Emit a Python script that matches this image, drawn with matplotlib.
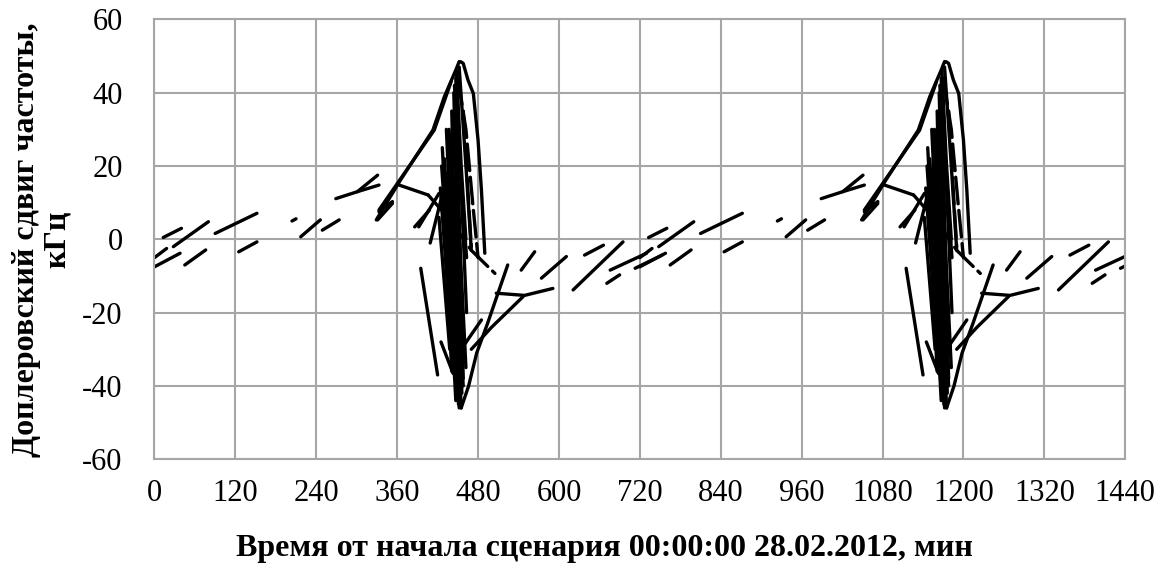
import matplotlib.pyplot as plt

plt.rcParams['font.family'] = ['Liberation Serif', 'DejaVu Serif']
plt.rcParams['axes.unicode_minus'] = False

# second day repeats the first one (orbit period of the scenario)
day_starts = [0, 720]

# short drift dashes, (x, y) pairs, x in minutes, y in kHz
drift_x = [
    [0, 38], [0, 18], [13, 40], [28, 80], [45, 76], [90, 152], [125, 152],
    [204, 210], [217, 246], [249, 274], [269, 301, 331], [301, 333],
    [331, 353], [333, 353], [392, 422], [386, 408], [409, 433],
    [544, 564], [574, 611], [638, 666], [621, 695], [671, 690],
    [676, 730], [713, 753],
]
drift_y = [
    [-7.5, -3.8], [-5.0, -2.5], [0.5, 3.0], [-2.0, 4.8], [-7.0, -2.9], [1.6, 7.1], [-3.4, -0.7],
    [5.0, 5.6], [0.7, 5.3], [2.5, 5.3], [11.1, 13.0, 17.5], [13.0, 14.8],
    [5.3, 9.8], [7.5, 10.3], [3.4, 12.5], [3.4, 8.0], [-1.0, 16.7],
    [-8.4, -3.4], [-10.6, -4.7], [-4.3, -1.6], [-13.8, -0.7], [-12.0, -9.7],
    [-8.4, -3.8], [-7.9, -4.3],
]

# high elevation passes (big arcs around 450 min)
pass_x = [
    [329, 365, 413, 430, 447, 452, 455, 458, 465, 473, 480, 485, 490],
    [333, 415, 440],
    [363, 406],
    [455, 466, 478, 494, 524],
    [470, 500, 547],
    [507, 549, 591],
    [455, 485],
    [395, 420],
    [425, 443],
    [426, 448], [430, 451], [434, 453], [438, 455], [441, 449],
    [444, 456], [422, 438], [436, 444], [447, 458], [429, 446],
    [432, 440, 452], [437, 447, 455],
    [424, 444], [427, 447], [433, 452], [440, 458], [443, 460],
    [446, 462], [450, 463], [437, 450], [431, 441],
    [448, 455, 462], [452, 462, 470], [445, 450],
]
pass_y = [
    [5.3, 16.2, 29.8, 38.9, 46.2, 48.5, 48.4, 48.0, 43.5, 39.8, 27.1, 13.5, -3.8],
    [8.0, 29.8, 43.0],
    [14.8, 12.1],
    [-46.0, -40.0, -31.0, -23.0, -7.0],
    [-30.0, -24.0, -15.6],
    [-14.7, -15.3, -13.4],
    [-30.0, -22.0],
    [-7.9, -37.0],
    [-28.0, -36.6],
    [20, -40], [22, -45], [18, -43], [28, -46], [35, -30],
    [40, -42], [6, -30], [10, -20], [44, -38], [15, -38],
    [12, -20, -44], [30, -10, -40],
    [14, -36], [25, -44], [30, -46], [20, -40], [15, -30],
    [25, -35], [35, -20], [5, -44], [0, -36],
    [46, 20, 0], [47, 20, -3], [42, 25],
]

# partly hidden tracks drawn broken in the source
broken_x = [
    [406, 440, 470, 505],
    [450, 462, 472, 480],
    [446, 455, 463],
    [458, 466, 470],
]
broken_y = [
    [12.1, 5.0, -3.0, -9.3],
    [44, 30, 10, -5],
    [38, 15, -5],
    [35, 10, -2],
]

xticks = list(range(0, 1441, 120))
yticks = list(range(-60, 61, 20))

fig = plt.figure(figsize=(11.64, 5.68), dpi=100)
ax = fig.add_axes([0.1327, 0.1915, 0.834, 0.7743])

for d in day_starts:
    for xs, ys in zip(drift_x, drift_y):
        ax.plot([x + d for x in xs], ys, color='black', lw=2.4, solid_capstyle='round')
    for xs, ys in zip(pass_x, pass_y):
        ax.plot([x + d for x in xs], ys, color='black', lw=2.4, solid_capstyle='round',
                solid_joinstyle='round')
    for xs, ys in zip(broken_x, broken_y):
        ax.plot([x + d for x in xs], ys, color='black', lw=2.4, ls=(0, (8, 2)),
                dash_capstyle='round')

ax.set_xlim(0, 1440)
ax.set_ylim(-60, 60)
ax.set_xticks(xticks)
ax.set_yticks(yticks)
ax.grid(True, color='#a6a6a6', lw=1.5)
ax.set_axisbelow(True)
for s in ax.spines.values():
    s.set_color('#a6a6a6')
    s.set_linewidth(1.5)
ax.tick_params(length=0, labelsize=22, pad=14)
ax.tick_params(axis='y', pad=23)

fig.text(0.519, 0.035, 'Время от начала сценария 00:00:00 28.02.2012, мин',
         ha='center', va='center', fontsize=23, fontweight='bold')
fig.text(0.036, 0.578, 'Доплеровский сдвиг частоты,\nкГц', rotation=90,
         ha='center', va='center', fontsize=23, fontweight='bold',
         multialignment='center', linespacing=1.1)

fig.savefig('out.png', dpi=100)
